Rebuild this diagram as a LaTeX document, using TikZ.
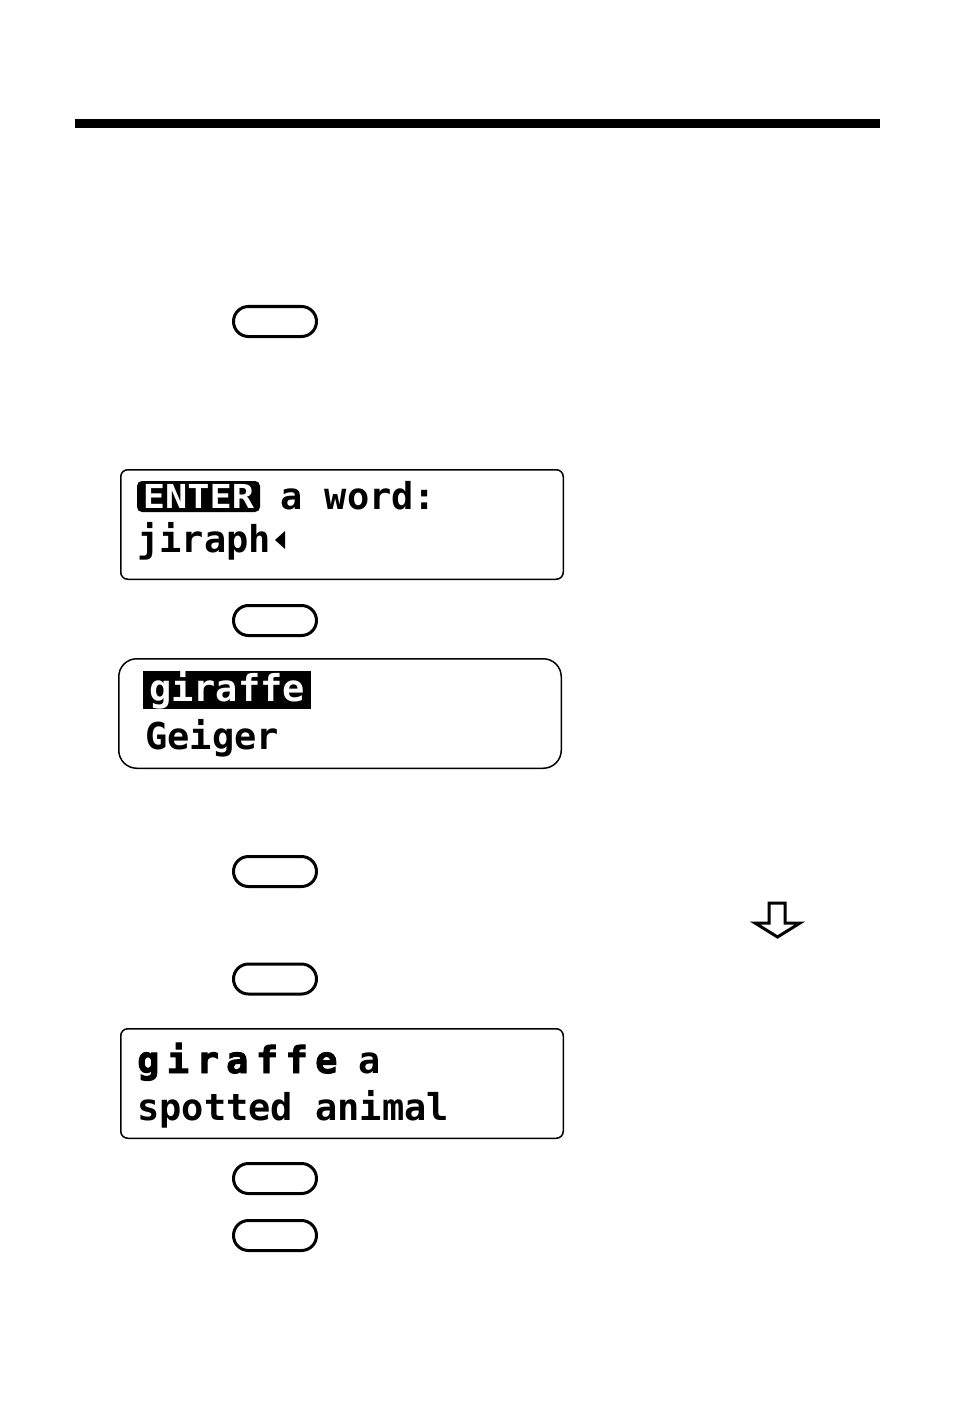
\documentclass[tikz,border=0pt]{standalone}
\usepackage{fontspec}
\newfontfamily\lcd{DejaVu Sans Mono Bold}
\newfontfamily\lcdheavy[FakeBold=2.5]{DejaVu Sans Mono Bold}
\begin{document}
\begin{tikzpicture}[x=1pt,y=-1pt,
  key/.style={draw, line width=3pt, rounded corners=15pt, minimum width=83pt, minimum height=30pt, inner sep=0pt},
  screen/.style={draw, line width=1.5pt, rounded corners=7pt, minimum width=442.5pt, minimum height=109.5pt, inner sep=0pt},
  screenb/.style={screen, rounded corners=18pt},
  lcdtxt/.style={anchor=base west, inner sep=0pt, font=\lcd\fontsize{37}{37}\selectfont},
  inv/.style={fill=black, text=white, inner sep=0pt}]
\useasboundingbox (0,0) rectangle (954,1412);
% top rule
\fill (75,119) rectangle (880,128);
% keys
\node[key] (k1) at (275,321.5) {};
\node[key] (k2) at (275,620.5) {};
\node[key] (k3) at (275,871.5) {};
\node[key] (k4) at (275,979) {};
\node[key] (k5) at (275,1178.5) {};
\node[key] (k6) at (275,1235.5) {};
% screen 1
\node[screen] (s1) at (342,524.5) {};
\node[inv, rounded corners=5pt, minimum width=123pt, minimum height=31pt,
  font=\lcd\fontsize{33}{33}\selectfont] (enter) at (198.5,496.5) {\scalebox{1.12}[1]{ENTER}};
\node[lcdtxt] (aword) at (280,509) {a word:};
\node[lcdtxt] (jiraph) at (137,552) {jiraph};
\fill (285,531) -- (285,549) -- (275,540) -- cycle;
% screen 2
\node[screenb] (s2) at (340,713.5) {};
\node[inv, minimum width=168pt, minimum height=38pt,
  font=\lcd\fontsize{37}{37}\selectfont] (hl) at (227,690) {giraffe};
\node[lcdtxt] (geiger) at (145,749) {Geiger};
% arrow
\draw[line width=3pt, line join=miter] (769,903) -- (785,903) -- (785,923) -- (800,923) -- (777.5,937) -- (755,923) -- (769,923) -- cycle;
% screen 3
\node[screen] (s3) at (342,1083.5) {};
\node[lcdtxt, font=\lcdheavy\fontsize{37}{37}\selectfont\addfontfeature{LetterSpace=20}] (gir) at (137,1073) {giraffe};
\node[lcdtxt] (a) at (358,1073) {a};
\node[lcdtxt] (spot) at (137,1120) {spotted animal};
\end{tikzpicture}
\end{document}
